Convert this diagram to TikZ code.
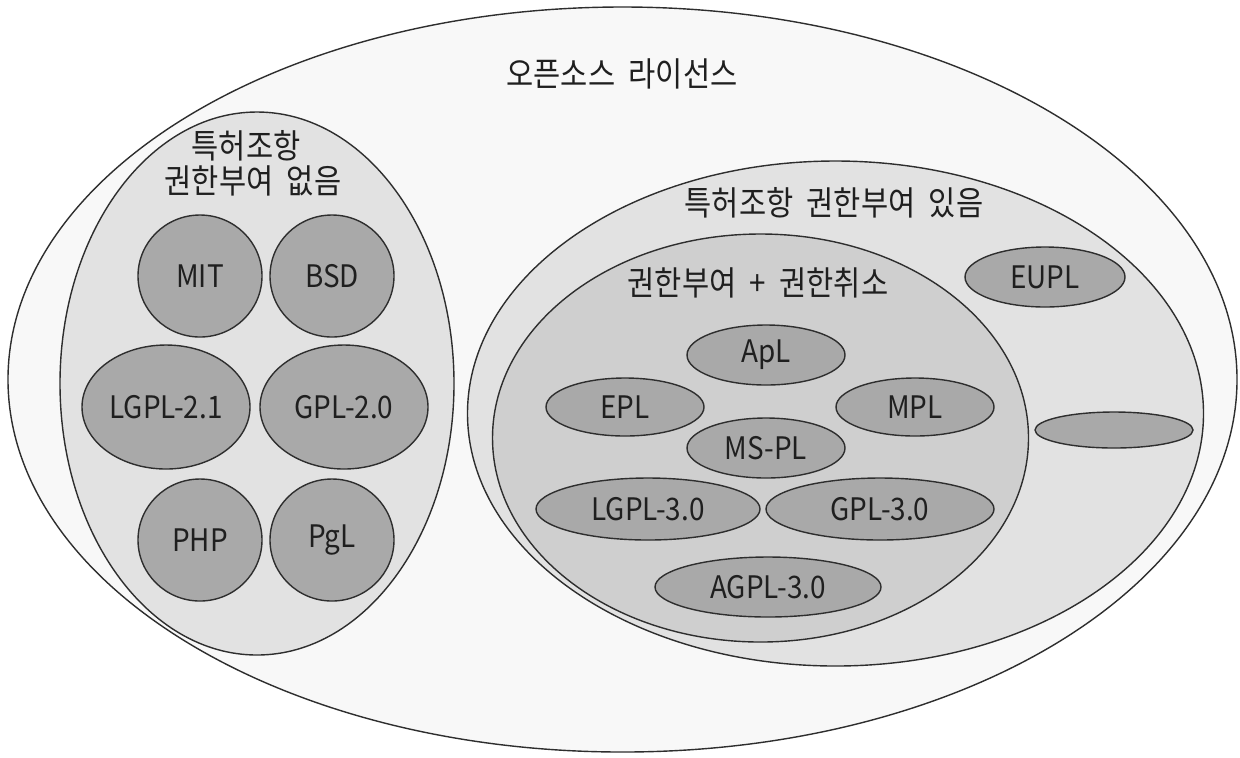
\documentclass[tikz,border=0pt]{standalone}
\usepackage{fontspec}
\setmainfont{Noto Sans CJK KR}
\newfontfamily\kr[FakeStretch=0.88,WordSpace=2.0]{Noto Sans CJK KR}
\newfontfamily\lt[FakeStretch=0.9]{Noto Sans CJK KR}
\usetikzlibrary{shapes.geometric}
\definecolor{edgec}{HTML}{2E2E2E}
\definecolor{outerc}{HTML}{F8F8F8}
\definecolor{midc}{HTML}{E2E2E2}
\definecolor{innerc}{HTML}{CFCFCF}
\definecolor{licc}{HTML}{A9A9A9}
\tikzset{
  region/.style={draw=edgec, line width=0.7pt},
  lic/.style={ellipse, draw=edgec, line width=0.7pt, fill=licc, inner sep=0pt,
    font=\lt\fontsize{15.5pt}{18pt}\selectfont, text=black!88},
  lbl/.style={inner sep=0pt, font=\kr\fontsize{16.8pt}{20pt}\selectfont, text=black!88}
}
\begin{document}
\begin{tikzpicture}[x=0.5pt,y=-0.5pt]
\useasboundingbox (0,0) rectangle (1240,757);
\fill[white] (0,0) rectangle (1240,757);
% containers
\draw[region, fill=outerc] (622.5,379.5) ellipse [x radius=614.5, y radius=372.5];
\draw[region, fill=midc] (257,383.5) ellipse [x radius=197, y radius=271.5];
\draw[region, fill=midc] (835.5,413.5) ellipse [x radius=368, y radius=252.5];
\draw[region, fill=innerc] (760.5,438) ellipse [x radius=268, y radius=204];
% labels
\node[lbl] (title) at (622,74) {오픈소스 라이선스};
\node[lbl] (noa) at (246,146) {특허조항};
\node[lbl] (nob) at (253,181) {권한부여 없음};
\node[lbl] (yes) at (834,203) {특허조항 권한부여 있음};
\node[lbl] (rev) at (758,283) {권한부여 + 권한취소};
% left group
\node[lic, minimum width=62pt, minimum height=61pt] (mit) at (200,276) {MIT};
\node[lic, minimum width=62pt, minimum height=61pt] (bsd) at (332,276) {BSD};
\node[lic, minimum width=84pt, minimum height=62pt] (lgpl2) at (166,407) {LGPL-2.1};
\node[lic, minimum width=84pt, minimum height=62pt] (gpl2) at (344,407) {GPL-2.0};
\node[lic, minimum width=62pt, minimum height=61pt] (php) at (200,540) {PHP};
\node[lic, minimum width=62pt, minimum height=61pt] (pgl) at (332,540) {PgL};
% right group
\node[lic, minimum width=80pt, minimum height=30pt] (eupl) at (1045,277) {EUPL};
\node[lic, minimum width=79pt, minimum height=18pt] (blank) at (1114,430) {};
\node[lic, minimum width=79pt, minimum height=30pt] (apl) at (766,355) {ApL};
\node[lic, minimum width=79pt, minimum height=29pt] (epl) at (625,407) {EPL};
\node[lic, minimum width=79pt, minimum height=29pt] (mpl) at (915,407) {MPL};
\node[lic, minimum width=79pt, minimum height=30pt] (mspl) at (766,448) {MS-PL};
\node[lic, minimum width=112pt, minimum height=31pt] (lgpl3) at (648,509) {LGPL-3.0};
\node[lic, minimum width=114pt, minimum height=31pt] (gpl3) at (880,509) {GPL-3.0};
\node[lic, minimum width=113pt, minimum height=30pt] (agpl3) at (768,587) {AGPL-3.0};
\end{tikzpicture}
\end{document}
